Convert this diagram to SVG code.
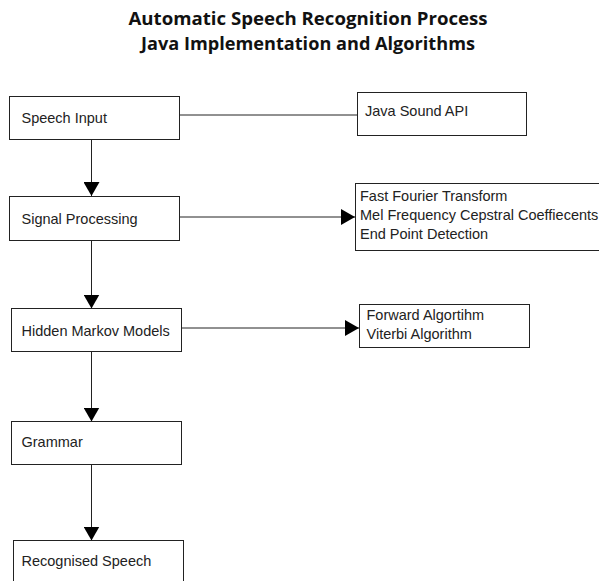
<svg xmlns="http://www.w3.org/2000/svg" width="599" height="581" viewBox="0 0 599 581">
<style>
.box{fill:#fff;stroke:#222;stroke-width:1}
.t{font-family:"Liberation Sans",Arial,sans-serif;font-size:14.5px;fill:#222}
.title{font-family:"Open Sans","Noto Sans",sans-serif;font-weight:700;font-size:17px;fill:#111;text-anchor:middle}
.c{stroke:#222;stroke-width:1;fill:none}
</style>
<defs>
<marker id="ah" markerUnits="userSpaceOnUse" markerWidth="15" markerHeight="16" refX="14" refY="8" orient="auto">
<path d="M0,0 L14,8 L0,16 z" fill="#000"/>
</marker>
</defs>
<rect width="599" height="581" fill="#fff"/>
<g id="title">
<text class="title" x="308" y="25" textLength="359" lengthAdjust="spacingAndGlyphs">Automatic Speech Recognition Process</text>
<text class="title" x="308" y="50" textLength="334" lengthAdjust="spacingAndGlyphs">Java Implementation and Algorithms</text>
</g>
<g id="connectors">
<line class="c" x1="179.5" y1="115" x2="357.5" y2="115"/>
<line class="c" x1="179.5" y1="217" x2="355" y2="217" marker-end="url(#ah)"/>
<line class="c" x1="181.5" y1="328" x2="359" y2="328" marker-end="url(#ah)"/>
<line class="c" x1="91.5" y1="139.5" x2="91.5" y2="196" marker-end="url(#ah)"/>
<line class="c" x1="91.5" y1="240.5" x2="91.5" y2="308.5" marker-end="url(#ah)"/>
<line class="c" x1="91.5" y1="352" x2="91.5" y2="421.5" marker-end="url(#ah)"/>
<line class="c" x1="91.5" y1="464.5" x2="91.5" y2="540.5" marker-end="url(#ah)"/>
</g>
<g id="speech-input">
<rect class="box" x="9.5" y="96.5" width="170" height="43"/>
<text class="t" x="21.5" y="123">Speech Input</text>
</g>
<g id="java-sound">
<rect class="box" x="357.5" y="92.5" width="169" height="43"/>
<text class="t" x="365" y="115.5">Java Sound API</text>
</g>
<g id="signal-processing">
<rect class="box" x="9.5" y="196.5" width="170" height="44"/>
<text class="t" x="21.5" y="224">Signal Processing</text>
</g>
<g id="fft">
<rect class="box" x="355.5" y="183.5" width="260" height="67"/>
<text class="t" x="360" y="201">Fast Fourier Transform</text>
<text class="t" x="360" y="220">Mel Frequency Cepstral Coeffiecents</text>
<text class="t" x="360" y="239">End Point Detection</text>
</g>
<g id="hmm">
<rect class="box" x="11.5" y="308.5" width="170" height="43"/>
<text class="t" x="21.5" y="335.5">Hidden Markov Models</text>
</g>
<g id="algorithms">
<rect class="box" x="359.5" y="304.5" width="170" height="43"/>
<text class="t" x="366.5" y="320">Forward Algortihm</text>
<text class="t" x="366.5" y="339">Viterbi Algorithm</text>
</g>
<g id="grammar">
<rect class="box" x="11.5" y="421.5" width="170" height="43"/>
<text class="t" x="21.5" y="447">Grammar</text>
</g>
<g id="recognised-speech">
<rect class="box" x="13.5" y="540.5" width="170" height="50"/>
<text class="t" x="21.5" y="566">Recognised Speech</text>
</g>
</svg>
